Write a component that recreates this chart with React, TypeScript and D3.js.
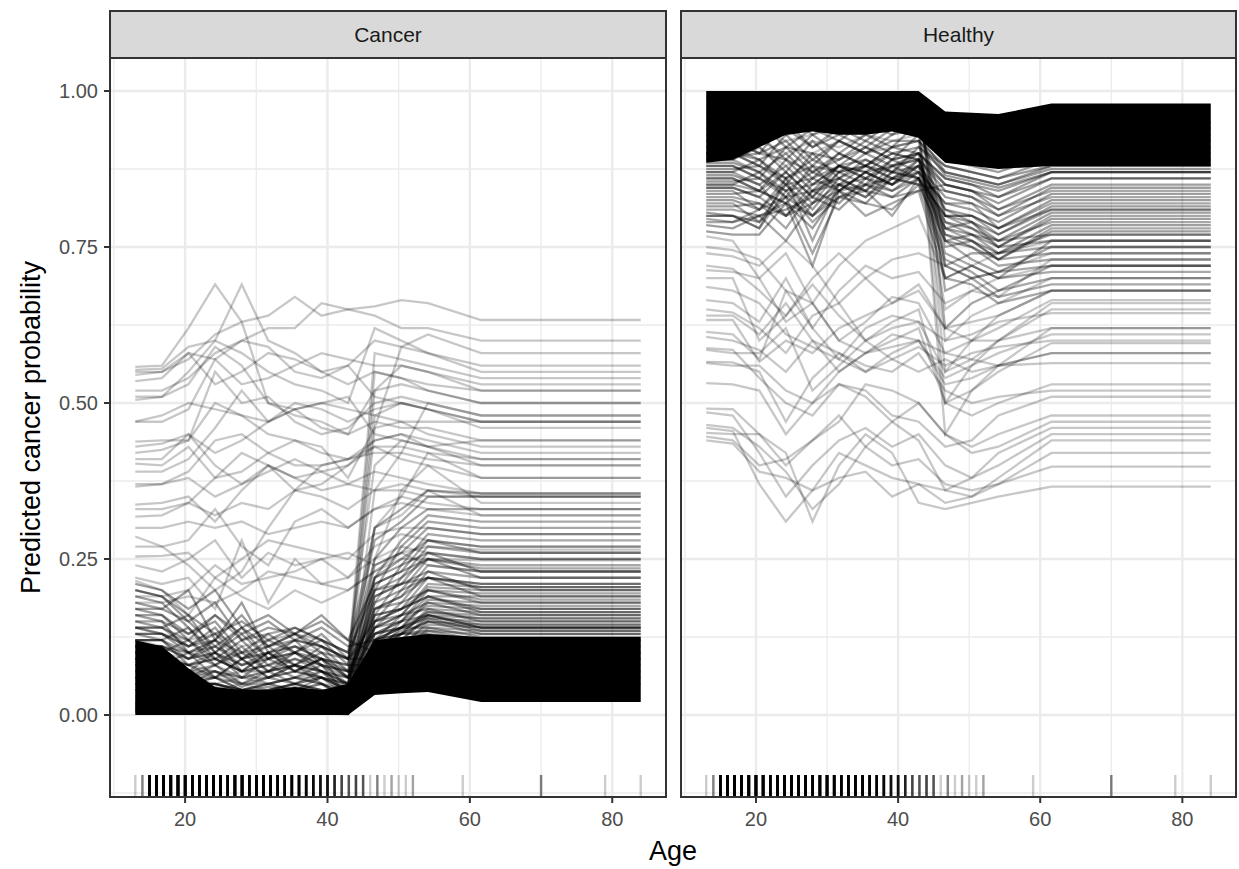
import React from "react";
import * as d3 from "d3";

// ---------- DATA ----------
// Age grid of the ICE curves (curves are flat from 61.58 up to 84)
const ageGrid = [13, 16.74, 20.47, 24.21, 27.95, 31.68, 35.42, 39.16, 42.89, 46.63, 50.37, 54.11, 61.58, 84];

const panelNames = ["Cancer", "Healthy"];
const xTicks = [20, 40, 60, 80];
const xMinor = [10, 30, 50, 70];
const yTicks = [0, 0.25, 0.5, 0.75, 1];
const yTickLabels = ["0.00", "0.25", "0.50", "0.75", "1.00"];
const yMinor = [-0.125, 0.125, 0.375, 0.625, 0.875];

// Cancer panel: envelope of the saturated (fully black) bundle of curves
const cancerCoreLow = [0, 0, 0, 0, 0, 0, 0, 0, 0, 0.032, 0.035, 0.037, 0.021, 0.021];
const cancerCoreHigh = [0.12, 0.11, 0.075, 0.045, 0.04, 0.04, 0.045, 0.04, 0.05, 0.12, 0.125, 0.13, 0.125, 0.125];

// Cancer panel: individual curves
const cancerSparse = [
  [0.558, 0.56, 0.62, 0.69, 0.63, 0.5, 0.49, 0.5, 0.49, 0.48, 0.47, 0.47, 0.47, 0.47],
  [0.553, 0.555, 0.59, 0.6, 0.69, 0.6, 0.58, 0.55, 0.56, 0.6, 0.59, 0.58, 0.56, 0.56],
  [0.545, 0.55, 0.57, 0.61, 0.63, 0.64, 0.67, 0.64, 0.65, 0.655, 0.665, 0.66, 0.633, 0.633],
  [0.535, 0.54, 0.58, 0.57, 0.6, 0.62, 0.62, 0.66, 0.65, 0.64, 0.62, 0.62, 0.6, 0.6],
  [0.51, 0.51, 0.55, 0.6, 0.58, 0.55, 0.53, 0.52, 0.5, 0.62, 0.6, 0.58, 0.55, 0.55],
  [0.505, 0.51, 0.53, 0.59, 0.56, 0.5, 0.48, 0.47, 0.45, 0.52, 0.53, 0.52, 0.5, 0.5],
  [0.47, 0.47, 0.49, 0.57, 0.53, 0.54, 0.56, 0.58, 0.57, 0.56, 0.56, 0.55, 0.53, 0.53],
  [0.438, 0.44, 0.44, 0.55, 0.5, 0.51, 0.47, 0.45, 0.46, 0.5, 0.51, 0.5, 0.48, 0.48],
  [0.43, 0.435, 0.45, 0.42, 0.44, 0.47, 0.49, 0.46, 0.45, 0.47, 0.46, 0.46, 0.44, 0.44],
  [0.42, 0.425, 0.44, 0.5, 0.48, 0.45, 0.44, 0.42, 0.41, 0.43, 0.43, 0.42, 0.41, 0.41],
  [0.41, 0.41, 0.45, 0.4, 0.37, 0.4, 0.36, 0.37, 0.4, 0.43, 0.41, 0.4, 0.38, 0.38],
  [0.403, 0.4, 0.43, 0.38, 0.39, 0.42, 0.44, 0.43, 0.38, 0.46, 0.47, 0.45, 0.43, 0.43],
  [0.39, 0.39, 0.41, 0.46, 0.52, 0.47, 0.5, 0.49, 0.47, 0.49, 0.5, 0.49, 0.46, 0.46],
  [0.366, 0.37, 0.38, 0.35, 0.37, 0.39, 0.41, 0.39, 0.4, 0.44, 0.45, 0.43, 0.4, 0.4],
  [0.337, 0.34, 0.35, 0.31, 0.36, 0.4, 0.38, 0.36, 0.37, 0.39, 0.38, 0.37, 0.355, 0.355],
  [0.318, 0.32, 0.34, 0.32, 0.34, 0.33, 0.36, 0.35, 0.33, 0.36, 0.37, 0.36, 0.35, 0.35],
  [0.3, 0.3, 0.31, 0.3, 0.31, 0.29, 0.3, 0.31, 0.3, 0.33, 0.34, 0.33, 0.32, 0.32],
  [0.286, 0.27, 0.24, 0.2, 0.23, 0.3, 0.36, 0.4, 0.41, 0.44, 0.45, 0.44, 0.42, 0.42],
  [0.27, 0.27, 0.28, 0.33, 0.27, 0.24, 0.31, 0.33, 0.3, 0.33, 0.35, 0.34, 0.33, 0.33],
  [0.254, 0.255, 0.26, 0.22, 0.25, 0.28, 0.27, 0.26, 0.25, 0.29, 0.3, 0.3, 0.29, 0.29],
  [0.24, 0.23, 0.25, 0.28, 0.22, 0.26, 0.24, 0.25, 0.22, 0.27, 0.29, 0.28, 0.27, 0.27],
  [0.22, 0.21, 0.22, 0.17, 0.28, 0.18, 0.25, 0.21, 0.22, 0.25, 0.27, 0.26, 0.25, 0.25],
  [0.215, 0.2, 0.16, 0.22, 0.19, 0.17, 0.2, 0.18, 0.2, 0.23, 0.26, 0.24, 0.23, 0.23],
  [0.12, 0.11, 0.1, 0.12, 0.09, 0.1, 0.11, 0.1, 0.07, 0.55, 0.54, 0.52, 0.5, 0.5],
  [0.08, 0.08, 0.07, 0.06, 0.07, 0.05, 0.06, 0.07, 0.05, 0.52, 0.56, 0.55, 0.52, 0.52],
  [0.05, 0.05, 0.06, 0.04, 0.05, 0.04, 0.05, 0.06, 0.04, 0.46, 0.59, 0.61, 0.58, 0.58],
  [0.1, 0.1, 0.09, 0.1, 0.08, 0.09, 0.1, 0.09, 0.08, 0.48, 0.5, 0.49, 0.47, 0.47],
  [0.06, 0.06, 0.05, 0.05, 0.04, 0.05, 0.04, 0.05, 0.03, 0.36, 0.42, 0.5, 0.48, 0.48],
  [0.14, 0.13, 0.12, 0.13, 0.11, 0.12, 0.13, 0.12, 0.1, 0.4, 0.44, 0.43, 0.41, 0.41],
  [0.04, 0.04, 0.03, 0.03, 0.04, 0.03, 0.04, 0.03, 0.02, 0.3, 0.35, 0.42, 0.38, 0.38],
  [0.07, 0.07, 0.06, 0.05, 0.06, 0.05, 0.06, 0.06, 0.04, 0.25, 0.36, 0.4, 0.34, 0.34],
  [0.09, 0.09, 0.08, 0.07, 0.06, 0.07, 0.08, 0.07, 0.06, 0.3, 0.32, 0.36, 0.32, 0.32],
  [0.11, 0.11, 0.1, 0.09, 0.1, 0.09, 0.1, 0.09, 0.08, 0.58, 0.57, 0.56, 0.54, 0.54],
  [0.47, 0.48, 0.5, 0.49, 0.48, 0.47, 0.49, 0.5, 0.51, 0.45, 0.44, 0.43, 0.44, 0.44],
  [0.52, 0.52, 0.54, 0.58, 0.6, 0.59, 0.55, 0.54, 0.56, 0.51, 0.5, 0.49, 0.47, 0.47],
  [0.33, 0.33, 0.34, 0.38, 0.42, 0.4, 0.38, 0.39, 0.37, 0.36, 0.36, 0.35, 0.35, 0.35],
  [0.19, 0.19, 0.2, 0.24, 0.21, 0.22, 0.23, 0.25, 0.26, 0.24, 0.26, 0.27, 0.265, 0.265],
  [0.18, 0.18, 0.19, 0.18, 0.2, 0.23, 0.22, 0.21, 0.2, 0.23, 0.25, 0.25, 0.248, 0.248],
  [0.55, 0.55, 0.58, 0.53, 0.55, 0.58, 0.57, 0.55, 0.53, 0.55, 0.54, 0.53, 0.52, 0.52],
  [0.37, 0.37, 0.39, 0.44, 0.45, 0.42, 0.4, 0.4, 0.41, 0.42, 0.42, 0.41, 0.4, 0.4],
];

const cancerMid = [
  [0.15, 0.15, 0.13, 0.16, 0.12, 0.13, 0.14, 0.12, 0.1, 0.3, 0.33, 0.36, 0.355, 0.355],
  [0.13, 0.13, 0.11, 0.12, 0.1, 0.11, 0.12, 0.11, 0.09, 0.28, 0.31, 0.35, 0.35, 0.35],
  [0.12, 0.12, 0.1, 0.11, 0.09, 0.1, 0.11, 0.09, 0.08, 0.25, 0.3, 0.33, 0.33, 0.33],
  [0.11, 0.11, 0.09, 0.1, 0.08, 0.09, 0.1, 0.08, 0.07, 0.22, 0.28, 0.32, 0.31, 0.31],
  [0.1, 0.1, 0.08, 0.1, 0.07, 0.08, 0.09, 0.08, 0.06, 0.2, 0.27, 0.31, 0.3, 0.3],
  [0.09, 0.09, 0.08, 0.09, 0.07, 0.07, 0.08, 0.07, 0.05, 0.24, 0.26, 0.3, 0.29, 0.29],
  [0.085, 0.085, 0.07, 0.08, 0.06, 0.07, 0.08, 0.07, 0.05, 0.18, 0.24, 0.29, 0.28, 0.28],
  [0.08, 0.08, 0.07, 0.07, 0.06, 0.06, 0.07, 0.06, 0.05, 0.21, 0.23, 0.28, 0.27, 0.27],
  [0.075, 0.075, 0.06, 0.07, 0.05, 0.06, 0.07, 0.06, 0.04, 0.16, 0.22, 0.27, 0.26, 0.26],
  [0.07, 0.07, 0.06, 0.06, 0.05, 0.05, 0.06, 0.05, 0.04, 0.19, 0.21, 0.26, 0.25, 0.25],
  [0.065, 0.065, 0.05, 0.06, 0.04, 0.05, 0.06, 0.05, 0.03, 0.15, 0.2, 0.25, 0.24, 0.24],
  [0.06, 0.06, 0.05, 0.05, 0.04, 0.04, 0.05, 0.04, 0.03, 0.17, 0.19, 0.24, 0.23, 0.23],
  [0.055, 0.055, 0.045, 0.05, 0.035, 0.04, 0.05, 0.04, 0.025, 0.14, 0.18, 0.23, 0.22, 0.22],
  [0.05, 0.05, 0.04, 0.045, 0.03, 0.035, 0.045, 0.035, 0.02, 0.16, 0.17, 0.22, 0.21, 0.21],
  [0.045, 0.045, 0.035, 0.04, 0.03, 0.03, 0.04, 0.03, 0.02, 0.12, 0.16, 0.21, 0.205, 0.205],
  [0.04, 0.04, 0.03, 0.035, 0.025, 0.03, 0.035, 0.025, 0.015, 0.14, 0.16, 0.205, 0.2, 0.2],
  [0.035, 0.035, 0.03, 0.03, 0.02, 0.025, 0.03, 0.02, 0.01, 0.11, 0.15, 0.2, 0.195, 0.195],
  [0.03, 0.03, 0.025, 0.025, 0.02, 0.02, 0.025, 0.02, 0.01, 0.13, 0.15, 0.19, 0.19, 0.19],
  [0.025, 0.025, 0.02, 0.02, 0.015, 0.015, 0.02, 0.015, 0.005, 0.1, 0.14, 0.185, 0.18, 0.18],
  [0.02, 0.02, 0.015, 0.015, 0.01, 0.01, 0.015, 0.01, 0.005, 0.12, 0.14, 0.18, 0.175, 0.175],
  [0.02, 0.02, 0.015, 0.015, 0.01, 0.01, 0.015, 0.01, 0.005, 0.09, 0.13, 0.17, 0.165, 0.165],
  [0.015, 0.015, 0.01, 0.01, 0.01, 0.01, 0.01, 0.01, 0.005, 0.11, 0.13, 0.165, 0.16, 0.16],
  [0.015, 0.015, 0.01, 0.01, 0.01, 0.01, 0.01, 0.01, 0.004, 0.08, 0.12, 0.16, 0.155, 0.155],
  [0.01, 0.01, 0.008, 0.008, 0.006, 0.006, 0.008, 0.006, 0.003, 0.1, 0.12, 0.155, 0.15, 0.15],
  [0.01, 0.01, 0.008, 0.008, 0.006, 0.006, 0.008, 0.006, 0.003, 0.07, 0.11, 0.15, 0.145, 0.145],
  [0.008, 0.008, 0.006, 0.006, 0.005, 0.005, 0.006, 0.005, 0.002, 0.09, 0.11, 0.145, 0.14, 0.14],
  [0.006, 0.006, 0.005, 0.005, 0.004, 0.004, 0.005, 0.004, 0.002, 0.06, 0.1, 0.14, 0.135, 0.135],
  [0.005, 0.005, 0.004, 0.004, 0.003, 0.003, 0.004, 0.003, 0.001, 0.08, 0.1, 0.135, 0.13, 0.13],
  [0.03, 0.03, 0.02, 0.02, 0.015, 0.02, 0.02, 0.015, 0.01, 0.15, 0.17, 0.2, 0.185, 0.185],
  [0.025, 0.025, 0.02, 0.02, 0.015, 0.015, 0.02, 0.015, 0.01, 0.13, 0.15, 0.175, 0.17, 0.17],
  [0.02, 0.02, 0.015, 0.015, 0.01, 0.01, 0.015, 0.01, 0.005, 0.12, 0.14, 0.165, 0.155, 0.155],
  [0.015, 0.015, 0.01, 0.01, 0.01, 0.01, 0.01, 0.01, 0.005, 0.11, 0.135, 0.16, 0.145, 0.145],
  [0.01, 0.01, 0.008, 0.008, 0.006, 0.006, 0.008, 0.006, 0.003, 0.1, 0.13, 0.15, 0.14, 0.14],
  [0.04, 0.04, 0.03, 0.03, 0.02, 0.03, 0.03, 0.02, 0.01, 0.17, 0.19, 0.22, 0.21, 0.21],
  [0.05, 0.05, 0.04, 0.04, 0.03, 0.03, 0.04, 0.03, 0.02, 0.2, 0.22, 0.25, 0.235, 0.235],
  [0.06, 0.06, 0.05, 0.05, 0.04, 0.04, 0.05, 0.04, 0.03, 0.22, 0.25, 0.28, 0.26, 0.26],
];

const cancerTexture = [
  [0.2, 0.19, 0.15, 0.18, 0.12, 0.14, 0.13, 0.15, 0.12, 0.1, 0.11, 0.12, 0.1, 0.1],
  [0.18, 0.17, 0.2, 0.12, 0.16, 0.11, 0.13, 0.1, 0.09, 0.09, 0.1, 0.11, 0.09, 0.09],
  [0.16, 0.16, 0.13, 0.15, 0.1, 0.13, 0.1, 0.12, 0.08, 0.08, 0.09, 0.1, 0.08, 0.08],
  [0.14, 0.14, 0.16, 0.1, 0.14, 0.09, 0.11, 0.09, 0.07, 0.07, 0.08, 0.09, 0.07, 0.07],
  [0.13, 0.13, 0.11, 0.13, 0.09, 0.11, 0.08, 0.1, 0.06, 0.06, 0.07, 0.08, 0.06, 0.06],
  [0.12, 0.12, 0.14, 0.09, 0.12, 0.08, 0.1, 0.08, 0.05, 0.05, 0.06, 0.07, 0.05, 0.05],
  [0.11, 0.11, 0.09, 0.11, 0.08, 0.1, 0.07, 0.09, 0.04, 0.12, 0.13, 0.13, 0.12, 0.12],
  [0.1, 0.1, 0.12, 0.08, 0.1, 0.07, 0.09, 0.07, 0.03, 0.11, 0.12, 0.12, 0.11, 0.11],
  [0.09, 0.09, 0.08, 0.09, 0.07, 0.08, 0.06, 0.08, 0.03, 0.1, 0.11, 0.115, 0.1, 0.1],
  [0.08, 0.08, 0.1, 0.06, 0.09, 0.06, 0.08, 0.05, 0.02, 0.09, 0.1, 0.105, 0.09, 0.09],
  [0.14, 0.13, 0.1, 0.12, 0.18, 0.1, 0.12, 0.11, 0.09, 0.13, 0.14, 0.14, 0.125, 0.125],
  [0.17, 0.16, 0.12, 0.16, 0.13, 0.15, 0.12, 0.14, 0.11, 0.12, 0.13, 0.135, 0.12, 0.12],
  [0.15, 0.14, 0.11, 0.14, 0.09, 0.12, 0.1, 0.13, 0.09, 0.15, 0.16, 0.17, 0.15, 0.15],
  [0.12, 0.12, 0.09, 0.12, 0.07, 0.1, 0.08, 0.11, 0.07, 0.14, 0.15, 0.16, 0.14, 0.14],
  [0.1, 0.1, 0.07, 0.1, 0.06, 0.09, 0.07, 0.09, 0.06, 0.13, 0.14, 0.155, 0.135, 0.135],
  [0.19, 0.18, 0.14, 0.1, 0.13, 0.09, 0.12, 0.08, 0.07, 0.16, 0.17, 0.19, 0.17, 0.17],
  [0.16, 0.15, 0.1, 0.08, 0.11, 0.07, 0.1, 0.07, 0.06, 0.17, 0.18, 0.2, 0.18, 0.18],
  [0.11, 0.11, 0.06, 0.08, 0.05, 0.07, 0.05, 0.07, 0.04, 0.15, 0.17, 0.19, 0.165, 0.165],
  [0.09, 0.09, 0.05, 0.07, 0.045, 0.06, 0.05, 0.06, 0.04, 0.14, 0.16, 0.18, 0.16, 0.16],
  [0.13, 0.12, 0.08, 0.06, 0.09, 0.06, 0.08, 0.06, 0.05, 0.18, 0.2, 0.22, 0.19, 0.19],
  [0.14, 0.14, 0.12, 0.09, 0.07, 0.1, 0.07, 0.09, 0.06, 0.19, 0.21, 0.23, 0.2, 0.2],
  [0.07, 0.07, 0.05, 0.06, 0.04, 0.05, 0.04, 0.06, 0.03, 0.12, 0.14, 0.16, 0.14, 0.14],
  [0.06, 0.06, 0.045, 0.05, 0.04, 0.045, 0.04, 0.05, 0.03, 0.11, 0.13, 0.15, 0.13, 0.13],
  [0.2, 0.19, 0.16, 0.13, 0.15, 0.12, 0.14, 0.12, 0.1, 0.2, 0.21, 0.22, 0.205, 0.205],
  [0.21, 0.2, 0.17, 0.2, 0.14, 0.16, 0.13, 0.16, 0.12, 0.21, 0.23, 0.25, 0.22, 0.22],
  [0.17, 0.17, 0.15, 0.11, 0.14, 0.11, 0.13, 0.11, 0.09, 0.22, 0.24, 0.26, 0.23, 0.23],
];

// Healthy panel: envelope of the saturated (fully black) bundle of curves
const healthyCoreTop = [1.0, 1.0, 1.0, 1.0, 1.0, 1.0, 1.0, 1.0, 1.0, 0.967, 0.965, 0.963, 0.98, 0.98];
const healthyCoreBottom = [0.885, 0.89, 0.91, 0.93, 0.935, 0.93, 0.93, 0.935, 0.925, 0.885, 0.88, 0.875, 0.88, 0.88];

const healthySparse = [
  [0.633, 0.633, 0.566, 0.6, 0.58, 0.62, 0.64, 0.66, 0.68, 0.62, 0.6, 0.6, 0.62, 0.62],
  [0.614, 0.61, 0.57, 0.68, 0.66, 0.6, 0.58, 0.6, 0.62, 0.5, 0.48, 0.5, 0.53, 0.53],
  [0.606, 0.6, 0.585, 0.55, 0.6, 0.58, 0.55, 0.57, 0.59, 0.56, 0.58, 0.59, 0.6, 0.6],
  [0.588, 0.585, 0.54, 0.5, 0.48, 0.53, 0.51, 0.47, 0.5, 0.45, 0.42, 0.43, 0.47, 0.47],
  [0.585, 0.58, 0.58, 0.62, 0.52, 0.56, 0.6, 0.57, 0.55, 0.57, 0.55, 0.56, 0.58, 0.58],
  [0.566, 0.565, 0.55, 0.47, 0.54, 0.58, 0.56, 0.55, 0.58, 0.52, 0.5, 0.51, 0.52, 0.52],
  [0.564, 0.56, 0.56, 0.52, 0.5, 0.55, 0.58, 0.59, 0.6, 0.58, 0.57, 0.56, 0.564, 0.564],
  [0.532, 0.53, 0.52, 0.45, 0.5, 0.53, 0.52, 0.48, 0.47, 0.43, 0.44, 0.48, 0.51, 0.51],
  [0.491, 0.49, 0.45, 0.4, 0.44, 0.47, 0.53, 0.52, 0.5, 0.45, 0.43, 0.45, 0.48, 0.48],
  [0.485, 0.48, 0.42, 0.35, 0.4, 0.44, 0.46, 0.43, 0.45, 0.4, 0.38, 0.42, 0.46, 0.46],
  [0.465, 0.46, 0.43, 0.39, 0.33, 0.37, 0.43, 0.47, 0.44, 0.36, 0.35, 0.38, 0.44, 0.44],
  [0.46, 0.455, 0.37, 0.31, 0.36, 0.42, 0.4, 0.38, 0.37, 0.34, 0.35, 0.37, 0.42, 0.42],
  [0.452, 0.45, 0.45, 0.42, 0.31, 0.4, 0.45, 0.42, 0.34, 0.33, 0.34, 0.35, 0.366, 0.366],
  [0.446, 0.44, 0.4, 0.41, 0.44, 0.48, 0.43, 0.4, 0.41, 0.37, 0.36, 0.37, 0.398, 0.398],
  [0.44, 0.435, 0.39, 0.38, 0.36, 0.38, 0.39, 0.35, 0.37, 0.36, 0.38, 0.4, 0.45, 0.45],
  [0.767, 0.76, 0.7, 0.74, 0.66, 0.72, 0.76, 0.78, 0.8, 0.7, 0.72, 0.74, 0.76, 0.76],
  [0.75, 0.745, 0.73, 0.68, 0.62, 0.68, 0.72, 0.7, 0.71, 0.66, 0.68, 0.7, 0.72, 0.72],
  [0.74, 0.735, 0.72, 0.76, 0.72, 0.66, 0.7, 0.73, 0.74, 0.72, 0.7, 0.71, 0.74, 0.74],
  [0.72, 0.715, 0.68, 0.64, 0.7, 0.74, 0.7, 0.66, 0.69, 0.62, 0.63, 0.64, 0.68, 0.68],
  [0.713, 0.71, 0.7, 0.63, 0.66, 0.6, 0.63, 0.67, 0.66, 0.58, 0.6, 0.62, 0.665, 0.665],
  [0.7, 0.7, 0.6, 0.64, 0.69, 0.64, 0.6, 0.62, 0.63, 0.55, 0.57, 0.6, 0.65, 0.65],
  [0.686, 0.68, 0.66, 0.61, 0.59, 0.57, 0.62, 0.64, 0.63, 0.6, 0.61, 0.63, 0.644, 0.644],
  [0.665, 0.66, 0.63, 0.7, 0.62, 0.57, 0.55, 0.58, 0.6, 0.54, 0.56, 0.58, 0.61, 0.61],
  [0.65, 0.645, 0.62, 0.58, 0.64, 0.66, 0.6, 0.63, 0.65, 0.5, 0.52, 0.55, 0.596, 0.596],
  [0.64, 0.64, 0.61, 0.66, 0.6, 0.55, 0.58, 0.61, 0.6, 0.53, 0.54, 0.56, 0.58, 0.58],
  [0.96, 0.96, 0.95, 0.93, 0.94, 0.93, 0.95, 0.94, 0.95, 0.45, 0.52, 0.56, 0.62, 0.62],
  [0.95, 0.95, 0.94, 0.92, 0.93, 0.94, 0.93, 0.95, 0.94, 0.5, 0.56, 0.6, 0.66, 0.66],
  [0.97, 0.97, 0.96, 0.94, 0.95, 0.94, 0.96, 0.95, 0.96, 0.55, 0.6, 0.64, 0.68, 0.68],
  [0.94, 0.94, 0.92, 0.9, 0.92, 0.91, 0.93, 0.92, 0.93, 0.6, 0.64, 0.66, 0.7, 0.7],
  [0.93, 0.93, 0.91, 0.88, 0.9, 0.92, 0.9, 0.91, 0.92, 0.65, 0.68, 0.67, 0.73, 0.73],
];

const healthyMid = [
  [0.92, 0.92, 0.9, 0.89, 0.87, 0.89, 0.91, 0.89, 0.9, 0.7, 0.72, 0.7, 0.76, 0.76],
  [0.91, 0.91, 0.89, 0.86, 0.88, 0.87, 0.88, 0.9, 0.89, 0.75, 0.76, 0.73, 0.78, 0.78],
  [0.9, 0.9, 0.88, 0.85, 0.86, 0.88, 0.87, 0.88, 0.89, 0.78, 0.79, 0.75, 0.8, 0.8],
  [0.89, 0.89, 0.87, 0.84, 0.85, 0.86, 0.88, 0.87, 0.86, 0.8, 0.8, 0.77, 0.81, 0.81],
  [0.88, 0.88, 0.86, 0.83, 0.84, 0.85, 0.86, 0.85, 0.87, 0.82, 0.82, 0.78, 0.82, 0.82],
  [0.87, 0.87, 0.85, 0.8, 0.82, 0.84, 0.85, 0.86, 0.85, 0.84, 0.83, 0.8, 0.83, 0.83],
  [0.86, 0.86, 0.84, 0.82, 0.8, 0.83, 0.84, 0.83, 0.84, 0.85, 0.84, 0.81, 0.84, 0.84],
  [0.99, 0.99, 0.98, 0.97, 0.98, 0.97, 0.98, 0.98, 0.99, 0.62, 0.66, 0.68, 0.72, 0.72],
  [0.985, 0.98, 0.97, 0.96, 0.97, 0.96, 0.97, 0.97, 0.98, 0.68, 0.7, 0.71, 0.75, 0.75],
  [0.975, 0.975, 0.96, 0.95, 0.96, 0.95, 0.96, 0.96, 0.97, 0.72, 0.74, 0.74, 0.77, 0.77],
  [0.965, 0.965, 0.95, 0.94, 0.95, 0.95, 0.95, 0.96, 0.96, 0.76, 0.77, 0.76, 0.79, 0.79],
  [0.955, 0.955, 0.94, 0.93, 0.94, 0.94, 0.95, 0.95, 0.95, 0.8, 0.8, 0.78, 0.81, 0.81],
  [0.8, 0.8, 0.78, 0.84, 0.79, 0.83, 0.85, 0.84, 0.86, 0.74, 0.72, 0.7, 0.71, 0.71],
  [0.81, 0.81, 0.8, 0.76, 0.82, 0.85, 0.83, 0.86, 0.87, 0.76, 0.73, 0.71, 0.72, 0.72],
  [0.82, 0.82, 0.79, 0.85, 0.8, 0.84, 0.87, 0.85, 0.88, 0.77, 0.75, 0.72, 0.73, 0.73],
  [0.83, 0.83, 0.82, 0.78, 0.84, 0.86, 0.84, 0.87, 0.88, 0.78, 0.76, 0.73, 0.74, 0.74],
  [0.84, 0.84, 0.81, 0.86, 0.82, 0.87, 0.88, 0.86, 0.89, 0.79, 0.77, 0.74, 0.75, 0.75],
  [0.845, 0.845, 0.83, 0.8, 0.85, 0.88, 0.86, 0.88, 0.89, 0.8, 0.78, 0.75, 0.76, 0.76],
  [0.85, 0.85, 0.84, 0.87, 0.83, 0.88, 0.89, 0.87, 0.9, 0.81, 0.79, 0.76, 0.77, 0.77],
  [0.79, 0.79, 0.8, 0.82, 0.72, 0.84, 0.8, 0.82, 0.84, 0.7, 0.69, 0.66, 0.68, 0.68],
  [0.795, 0.79, 0.81, 0.83, 0.74, 0.83, 0.82, 0.81, 0.85, 0.72, 0.7, 0.67, 0.69, 0.69],
  [0.8, 0.8, 0.78, 0.86, 0.76, 0.85, 0.84, 0.8, 0.86, 0.73, 0.71, 0.68, 0.7, 0.7],
];

const healthyTexture = [
  [0.92, 0.92, 0.9, 0.95, 0.91, 0.94, 0.92, 0.95, 0.96, 0.92, 0.91, 0.9, 0.93, 0.93],
  [0.91, 0.91, 0.93, 0.89, 0.93, 0.9, 0.93, 0.91, 0.95, 0.91, 0.9, 0.89, 0.92, 0.92],
  [0.9, 0.9, 0.88, 0.93, 0.89, 0.92, 0.9, 0.93, 0.94, 0.9, 0.89, 0.88, 0.91, 0.91],
  [0.89, 0.89, 0.91, 0.87, 0.92, 0.88, 0.91, 0.89, 0.93, 0.89, 0.88, 0.87, 0.9, 0.9],
  [0.88, 0.88, 0.86, 0.91, 0.87, 0.9, 0.88, 0.91, 0.92, 0.88, 0.87, 0.86, 0.89, 0.89],
  [0.87, 0.87, 0.89, 0.85, 0.9, 0.86, 0.89, 0.87, 0.91, 0.87, 0.86, 0.85, 0.88, 0.88],
  [0.86, 0.86, 0.84, 0.89, 0.85, 0.88, 0.86, 0.89, 0.9, 0.86, 0.85, 0.84, 0.87, 0.87],
  [0.85, 0.85, 0.87, 0.83, 0.88, 0.84, 0.87, 0.85, 0.89, 0.85, 0.84, 0.83, 0.86, 0.86],
  [0.94, 0.94, 0.92, 0.96, 0.93, 0.95, 0.94, 0.96, 0.97, 0.94, 0.93, 0.92, 0.95, 0.95],
  [0.93, 0.93, 0.95, 0.91, 0.94, 0.92, 0.95, 0.93, 0.96, 0.93, 0.92, 0.91, 0.94, 0.94],
  [0.885, 0.885, 0.87, 0.9, 0.86, 0.9, 0.88, 0.91, 0.9, 0.86, 0.85, 0.83, 0.87, 0.87],
  [0.875, 0.875, 0.88, 0.86, 0.89, 0.87, 0.9, 0.88, 0.9, 0.85, 0.84, 0.82, 0.86, 0.86],
  [0.865, 0.865, 0.85, 0.88, 0.84, 0.88, 0.87, 0.9, 0.89, 0.84, 0.83, 0.81, 0.85, 0.85],
  [0.855, 0.855, 0.86, 0.84, 0.87, 0.85, 0.88, 0.86, 0.88, 0.83, 0.82, 0.8, 0.845, 0.845],
  [0.845, 0.845, 0.83, 0.87, 0.83, 0.87, 0.85, 0.89, 0.87, 0.82, 0.81, 0.79, 0.835, 0.835],
  [0.835, 0.835, 0.84, 0.82, 0.86, 0.84, 0.87, 0.85, 0.88, 0.81, 0.8, 0.78, 0.825, 0.825],
  [0.825, 0.825, 0.81, 0.85, 0.81, 0.86, 0.84, 0.88, 0.86, 0.8, 0.79, 0.77, 0.815, 0.815],
  [0.815, 0.815, 0.82, 0.8, 0.84, 0.82, 0.86, 0.84, 0.87, 0.79, 0.78, 0.76, 0.805, 0.805],
  [0.805, 0.8, 0.79, 0.83, 0.8, 0.85, 0.83, 0.87, 0.86, 0.78, 0.77, 0.75, 0.795, 0.795],
  [0.785, 0.78, 0.8, 0.81, 0.83, 0.81, 0.85, 0.83, 0.86, 0.77, 0.76, 0.74, 0.785, 0.785],
  [0.775, 0.77, 0.77, 0.82, 0.78, 0.84, 0.82, 0.86, 0.85, 0.76, 0.75, 0.73, 0.775, 0.775],
  [0.9, 0.9, 0.92, 0.94, 0.91, 0.93, 0.91, 0.94, 0.93, 0.87, 0.86, 0.85, 0.875, 0.875],
  [0.895, 0.895, 0.9, 0.92, 0.88, 0.92, 0.9, 0.92, 0.92, 0.865, 0.855, 0.845, 0.87, 0.87],
  [0.9, 0.9, 0.89, 0.91, 0.9, 0.89, 0.92, 0.9, 0.91, 0.88, 0.87, 0.86, 0.88, 0.88],
];

// Rug: observed ages and how many women have each age
const rugAges = [13, 14, 15, 16, 17, 18, 19, 20, 21, 22, 23, 24, 25, 26, 27, 28, 29, 30, 31, 32, 33, 34, 35, 36, 37, 38, 39, 40, 41, 42, 43, 44, 45, 46, 47, 48, 49, 50, 51, 52, 59, 70, 79, 84];
const rugCounts = [1, 3, 21, 35, 41, 38, 40, 36, 33, 31, 40, 36, 35, 30, 33, 37, 31, 33, 28, 25, 24, 22, 23, 20, 18, 15, 12, 12, 9, 6, 5, 6, 5, 1, 3, 1, 2, 1, 1, 2, 1, 3, 1, 1];

// ---------- LAYOUT ----------
const W = 1239;
const H = 869;
const stripTop = 11;
const panelTop = 58;
const panelBottom = 797;
const panelX = [
  [110, 666],
  [681, 1236],
];
const FONT = "'Liberation Sans', Arial, Helvetica, sans-serif";

const y = d3.scaleLinear().domain([-0.1314, 1.0529]).range([panelBottom, panelTop]);

type PanelData = {
  coreLow: number[];
  coreHigh: number[];
  sparse: number[][];
  mid: number[][];
  texture: number[][];
};

const panelData: PanelData[] = [
  { coreLow: cancerCoreLow, coreHigh: cancerCoreHigh, sparse: cancerSparse, mid: cancerMid, texture: cancerTexture },
  { coreLow: healthyCoreBottom, coreHigh: healthyCoreTop, sparse: healthySparse, mid: healthyMid, texture: healthyTexture },
];

function Panel({ idx }: { idx: number }) {
  const [x0, x1] = panelX[idx];
  const x = d3.scaleLinear().domain([9.45, 87.55]).range([x0, x1]);
  const d = panelData[idx];
  const line = d3
    .line<number>()
    .x((_, i) => x(ageGrid[i]))
    .y((v) => y(v));
  const band = d3
    .area<number>()
    .x((a) => x(a))
    .y0((_, i) => y(d.coreLow[i]))
    .y1((_, i) => y(d.coreHigh[i]));

  const clipId = `clip-${idx}`;
  return (
    <g>
      <defs>
        <clipPath id={clipId}>
          <rect x={x0} y={panelTop} width={x1 - x0} height={panelBottom - panelTop} />
        </clipPath>
      </defs>
      <rect x={x0} y={panelTop} width={x1 - x0} height={panelBottom - panelTop} fill="#FFFFFF" />
      <g clipPath={`url(#${clipId})`}>
        {xMinor.map((t) => (
          <line key={"xm" + t} x1={x(t)} x2={x(t)} y1={panelTop} y2={panelBottom} stroke="#EBEBEB" strokeWidth={1.3} />
        ))}
        {yMinor.map((t) => (
          <line key={"ym" + t} x1={x0} x2={x1} y1={y(t)} y2={y(t)} stroke="#EBEBEB" strokeWidth={1.3} />
        ))}
        {xTicks.map((t) => (
          <line key={"xM" + t} x1={x(t)} x2={x(t)} y1={panelTop} y2={panelBottom} stroke="#EBEBEB" strokeWidth={2.4} />
        ))}
        {yTicks.map((t) => (
          <line key={"yM" + t} x1={x0} x2={x1} y1={y(t)} y2={y(t)} stroke="#EBEBEB" strokeWidth={2.4} />
        ))}
      </g>
      <g clipPath={`url(#${clipId})`}>
        <path d={band(ageGrid) as string} fill="#000" />
        {d.texture.map((l, i) => (
          <path key={"t" + i} d={line(l) as string} fill="none" stroke="#000" strokeOpacity={0.38} strokeWidth={2.3} />
        ))}
        {d.mid.map((l, i) => (
          <path key={"m" + i} d={line(l) as string} fill="none" stroke="#000" strokeOpacity={0.34} strokeWidth={2.3} />
        ))}
        {d.sparse.map((l, i) => (
          <path key={"s" + i} d={line(l) as string} fill="none" stroke="#000" strokeOpacity={0.22} strokeWidth={2.3} />
        ))}
        {rugAges.map((a, i) =>
          d3.range(rugCounts[i]).map((k) => (
            <line
              key={"r" + a + "-" + k}
              x1={x(a)}
              x2={x(a)}
              y1={panelBottom}
              y2={panelBottom - 22}
              stroke="#000"
              strokeOpacity={0.2}
              strokeWidth={2.4}
            />
          ))
        )}
      </g>
      <rect x={x0} y={panelTop} width={x1 - x0} height={panelBottom - panelTop} fill="none" stroke="#333333" strokeWidth={2} />
      <rect x={x0} y={stripTop} width={x1 - x0} height={panelTop - stripTop} fill="#D9D9D9" stroke="#333333" strokeWidth={2} />
      <text x={(x0 + x1) / 2} y={(stripTop + panelTop) / 2} dy="0.36em" textAnchor="middle" fontFamily={FONT} fontSize={21} fill="#1A1A1A">
        {panelNames[idx]}
      </text>
      {xTicks.map((t) => (
        <g key={"xt" + t}>
          <line x1={x(t)} x2={x(t)} y1={panelBottom} y2={panelBottom + 6} stroke="#333333" strokeWidth={2} />
          <text x={x(t)} y={panelBottom + 22} dy="0.36em" textAnchor="middle" fontFamily={FONT} fontSize={20} fill="#4D4D4D">
            {t}
          </text>
        </g>
      ))}
    </g>
  );
}

export default function App() {
  const x0 = panelX[0][0];
  return (
    <svg width={W} height={H} style={{ display: "block", position: "absolute", left: 0, top: 0 }}>
      <rect x={0} y={0} width={W} height={H} fill="#FFFFFF" />
      <Panel idx={0} />
      <Panel idx={1} />
      {yTicks.map((t, i) => (
        <g key={"yt" + t}>
          <line x1={x0 - 6} x2={x0} y1={y(t)} y2={y(t)} stroke="#333333" strokeWidth={2} />
          <text x={x0 - 12} y={y(t)} dy="0.36em" textAnchor="end" fontFamily={FONT} fontSize={20} fill="#4D4D4D">
            {yTickLabels[i]}
          </text>
        </g>
      ))}
      <text
        transform={`translate(30, ${(panelTop + panelBottom) / 2}) rotate(-90)`}
        textAnchor="middle"
        dy="0.36em"
        fontFamily={FONT}
        fontSize={27}
        fill="#000"
      >
        Predicted cancer probability
      </text>
      <text x={(panelX[0][0] + panelX[1][1]) / 2} y={850} dy="0.36em" textAnchor="middle" fontFamily={FONT} fontSize={27} fill="#000">
        Age
      </text>
    </svg>
  );
}
